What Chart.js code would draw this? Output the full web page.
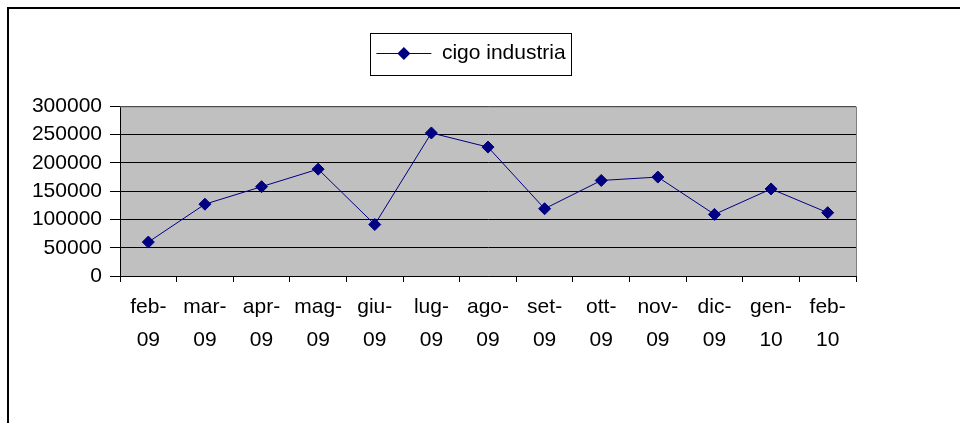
<!DOCTYPE html>
<html>
<head>
<meta charset="utf-8">
<script src="https://cdn.jsdelivr.net/npm/chart.js@4"></script>
<style>
  html, body { margin: 0; padding: 0; background: #ffffff; }
  canvas { display: block; }
</style>
</head>
<body>
<canvas id="c" width="960" height="423"></canvas>
<script>
const categories = ['feb-09','mar-09','apr-09','mag-09','giu-09','lug-09','ago-09','set-09','ott-09','nov-09','dic-09','gen-10','feb-10'];
const seriesName = 'cigo industria';
const seriesValues = [60000, 127000, 158000, 189000, 91000, 253000, 228000, 119000, 169000, 175000, 109000, 154000, 112000];
const yTicks = [0, 50000, 100000, 150000, 200000, 250000, 300000];

const FONT = "'Liberation Sans', Arial, sans-serif";
const NAVY = '#000080';

// two-line labels "feb-" / "09"
const xLabels = categories.map(c => { const i = c.indexOf('-'); return [c.slice(0, i + 1), c.slice(i + 1)]; });

const framePlugin = {
  id: 'frame',
  beforeDraw(chart) {
    const ctx = chart.ctx, a = chart.chartArea;
    ctx.save();
    ctx.fillStyle = '#ffffff';
    ctx.fillRect(0, 0, chart.width, chart.height);
    ctx.strokeStyle = '#000000';
    ctx.lineWidth = 2;
    ctx.strokeRect(8, 8, chart.width + 20, chart.height + 20);
    ctx.fillStyle = '#c0c0c0';
    ctx.fillRect(a.left, a.top, a.right - a.left, a.bottom - a.top);
    ctx.restore();
  },
  afterDraw(chart) {
    const ctx = chart.ctx, a = chart.chartArea;
    ctx.save();
    ctx.strokeStyle = '#808080';
    ctx.lineWidth = 1;
    ctx.beginPath();
    ctx.moveTo(a.left, a.top + 0.5);
    ctx.lineTo(a.right + 0.5, a.top + 0.5);
    ctx.lineTo(a.right + 0.5, a.bottom);
    ctx.stroke();
    // legend box and marker
    const lg = chart.legend;
    if (lg && lg.legendHitBoxes && lg.legendHitBoxes.length) {
      const hb = lg.legendHitBoxes[0];
      const cy = hb.top + hb.height / 2;
      ctx.strokeStyle = '#000000';
      ctx.lineWidth = 1;
      ctx.strokeRect(Math.round(hb.left - 6) + 0.5, Math.round(cy - 21) + 0.5, Math.round(hb.width + 12), 42);
      const mx = hb.left + 27.5;
      const r = 6.5;
      ctx.fillStyle = NAVY;
      ctx.beginPath();
      ctx.moveTo(mx - r, cy); ctx.lineTo(mx, cy - r); ctx.lineTo(mx + r, cy); ctx.lineTo(mx, cy + r);
      ctx.closePath();
      ctx.fill();
    }
    ctx.restore();
  }
};

new Chart(document.getElementById('c'), {
  type: 'line',
  data: {
    labels: xLabels,
    datasets: [{
      label: seriesName,
      data: seriesValues,
      borderColor: NAVY,
      backgroundColor: NAVY,
      borderWidth: 1,
      pointStyle: 'rectRot',
      pointRadius: 6,
      pointBorderWidth: 1,
      pointBackgroundColor: NAVY,
      pointBorderColor: NAVY,
      tension: 0,
      fill: false
    }]
  },
  options: {
    responsive: false,
    animation: false,
    layout: { padding: { top: 23, left: 0, right: 18, bottom: 0 } },
    plugins: {
      legend: {
        display: true,
        position: 'top',
        fullSize: true,
        labels: {
          usePointStyle: true,
          pointStyle: 'line',
          pointStyleWidth: 55,
          padding: 20,
          color: '#000000',
          font: { family: FONT, size: 21 }
        }
      },
      title: {
        display: true,
        text: '',
        position: 'top',
        weight: 500,
        padding: 9,
        font: { family: FONT, size: 12, lineHeight: 1.2 }
      },
      tooltip: { enabled: false }
    },
    scales: {
      x: {
        type: 'category',
        offset: true,
        grid: { display: true, offset: true, drawOnChartArea: false, drawTicks: true, tickLength: 6, color: '#000000' },
        border: { display: true, color: '#000000', width: 1 },
        ticks: { color: '#000000', padding: 8, maxRotation: 0, autoSkip: false, font: { family: FONT, size: 21, lineHeight: 1.6 } },
        afterFit(scale) { scale.height = 147; }
      },
      y: {
        type: 'linear',
        position: 'left',
        min: 0,
        max: 300000,
        afterBuildTicks(scale) { scale.ticks = yTicks.map(v => ({ value: v })); },
        grid: { display: true, color: '#000000', lineWidth: 1, drawTicks: true, tickLength: 10 },
        border: { display: true, color: '#000000', width: 1 },
        ticks: { color: '#000000', padding: 8, autoSkip: false, font: { family: FONT, size: 21 }, callback: v => String(v) },
        afterFit(scale) { scale.width = 120; }
      },
      yRightSpace: {
        type: 'linear',
        position: 'right',
        display: true,
        grid: { display: false, drawTicks: false },
        border: { display: false },
        ticks: { display: false },
        afterFit(scale) { scale.width = 86; }
      }
    }
  },
  plugins: [framePlugin]
});
</script>
</body>
</html>
